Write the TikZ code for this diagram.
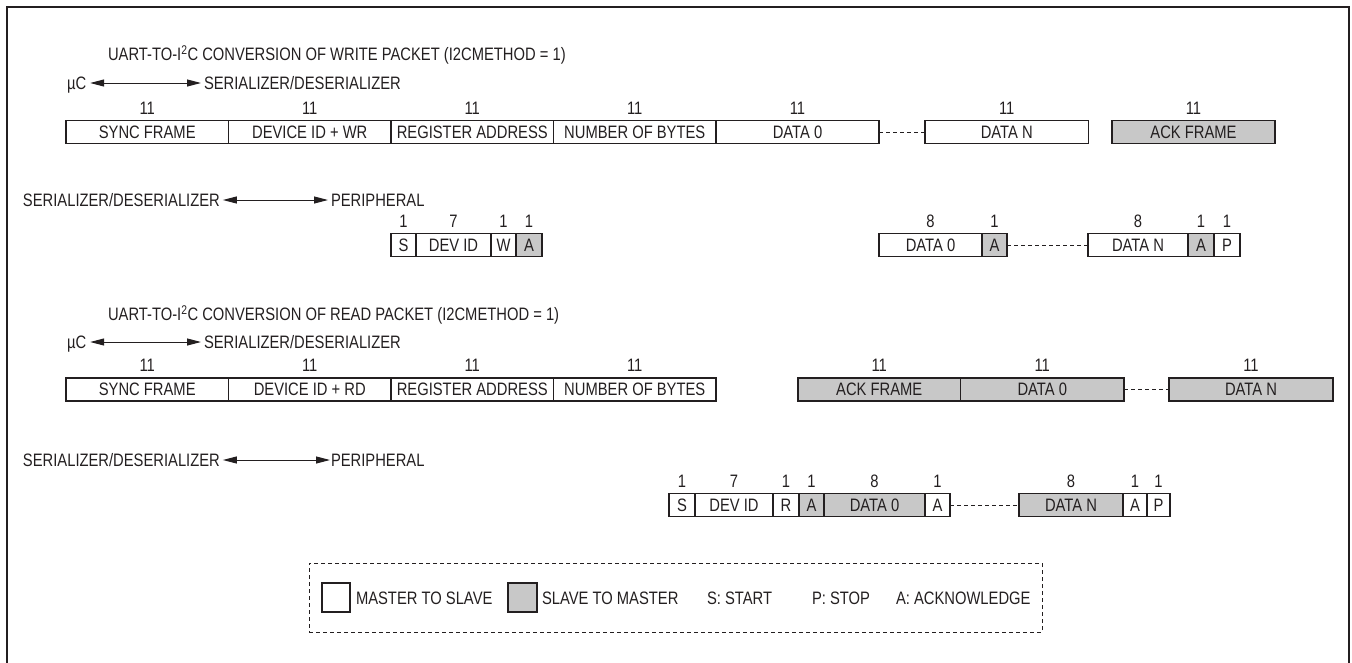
\documentclass[tikz,border=0pt]{standalone}
\usepackage{fontspec}
\setmainfont[FakeStretch=0.82]{Liberation Sans}
\usetikzlibrary{arrows.meta}
\definecolor{ink}{HTML}{231F20}
\definecolor{shade}{HTML}{C8C8C8}
\newcommand\fld[7]{%
  \node[cell, fill=#5, minimum width=#3-#2, anchor=west] (#1) at (#2,#4) {#6};
  \node[lbl] (#1n) at ([yshift=12.5pt]#1.north) {#7};}
\begin{document}
\begin{tikzpicture}[x=1pt,y=-1pt,
  font=\fontsize{18}{20}\selectfont, text=ink,
  cell/.style={draw=ink, line width=1.1pt, minimum height=23pt, inner sep=0pt, outer sep=0pt, text height=12.9pt, text depth=0pt},
  lbl/.style={inner sep=0pt, outer sep=0pt, text height=12.9pt, text depth=0pt},
  dual/.style={{Triangle[length=14pt,width=7pt]}-{Triangle[length=14pt,width=7pt]}, line width=1pt, draw=ink},
  dots/.style={draw=ink, line width=0.8pt, dash pattern=on 4pt off 3pt}]
\useasboundingbox (0,0) rectangle (1352,662);
\clip (0,0) rectangle (1352,662);
\draw[draw=ink, line width=2.6pt] (7,700) -- (7,7) -- (1349,7) -- (1349,700);

% ---- write packet
\node[lbl, anchor=west] (t1) at (108,54) {UART-TO-I\textsuperscript{2}C CONVERSION OF WRITE PACKET (I2CMETHOD = 1)};
\node[lbl, anchor=west] (uc1) at (67,83) {µC};
\node[lbl, anchor=west] (sd1) at (204,83) {SERIALIZER/DESERIALIZER};
\draw[dual, shorten <=4pt, shorten >=3pt] (uc1) -- (sd1);

\fld{a1}{66}{228.5}{132}{white}{SYNC FRAME}{11}
\fld{a2}{228.5}{391}{132}{white}{DEVICE ID + WR}{11}
\fld{a3}{391}{553.5}{132}{white}{REGISTER ADDRESS}{11}
\fld{a4}{553.5}{716}{132}{white}{NUMBER OF BYTES}{11}
\fld{a5}{716}{879}{132}{white}{DATA 0}{11}
\fld{a6}{925}{1088.5}{132}{white}{DATA N}{11}
\fld{a7}{1112}{1275}{132}{shade}{ACK FRAME}{11}
\draw[dots] (a5) -- (a6);

\node[lbl, anchor=west] (sd2) at (23,200) {SERIALIZER/DESERIALIZER};
\node[lbl, anchor=west] (pe2) at (331,200) {PERIPHERAL};
\draw[dual, shorten <=3pt, shorten >=3pt] (sd2) -- (pe2);

\fld{b1}{391}{416}{245}{white}{S}{1}
\fld{b2}{416}{491}{245}{white}{DEV ID}{7}
\fld{b3}{491}{516}{245}{white}{W}{1}
\fld{b4}{516}{542}{245}{shade}{A}{1}
\fld{b5}{879}{982}{245}{white}{DATA 0}{8}
\fld{b6}{982}{1007}{245}{shade}{A}{1}
\fld{b7}{1088}{1188}{245}{white}{DATA N}{8}
\fld{b8}{1188}{1214}{245}{shade}{A}{1}
\fld{b9}{1214}{1240}{245}{white}{P}{1}
\draw[dots] (b6) -- (b7);

% ---- read packet
\node[lbl, anchor=west] (t2) at (108,314) {UART-TO-I\textsuperscript{2}C CONVERSION OF READ PACKET (I2CMETHOD = 1)};
\node[lbl, anchor=west] (uc3) at (67,342) {µC};
\node[lbl, anchor=west] (sd3) at (204,342) {SERIALIZER/DESERIALIZER};
\draw[dual, shorten <=4pt, shorten >=3pt] (uc3) -- (sd3);

\fld{c1}{66}{228.5}{389.5}{white}{SYNC FRAME}{11}
\fld{c2}{228.5}{391}{389.5}{white}{DEVICE ID + RD}{11}
\fld{c3}{391}{553.5}{389.5}{white}{REGISTER ADDRESS}{11}
\fld{c4}{553.5}{716}{389.5}{white}{NUMBER OF BYTES}{11}
\fld{c5}{798}{960.5}{389.5}{shade}{ACK FRAME}{11}
\fld{c6}{960.5}{1124}{389.5}{shade}{DATA 0}{11}
\fld{c7}{1169}{1333}{389.5}{shade}{DATA N}{11}
\draw[dots] (c6) -- (c7);

\node[lbl, anchor=west] (sd4) at (23,460) {SERIALIZER/DESERIALIZER};
\node[lbl, anchor=west] (pe4) at (331,460) {PERIPHERAL};
\draw[dual, shorten <=3pt, shorten >=1pt] (sd4) -- (pe4);

\fld{d1}{669}{695}{505}{white}{S}{1}
\fld{d2}{695}{773}{505}{white}{DEV ID}{7}
\fld{d3}{773}{799}{505}{white}{R}{1}
\fld{d4}{799}{824}{505}{shade}{A}{1}
\fld{d5}{824}{925}{505}{shade}{DATA 0}{8}
\fld{d6}{925}{950}{505}{white}{A}{1}
\fld{d7}{1019}{1123}{505}{shade}{DATA N}{8}
\fld{d8}{1123}{1147}{505}{white}{A}{1}
\fld{d9}{1147}{1170}{505}{white}{P}{1}
\draw[dots] (d6) -- (d7);

% ---- legend
\node[draw=ink, line width=0.8pt, dash pattern=on 4pt off 3pt, minimum width=733pt, minimum height=69pt, inner sep=0pt, outer sep=0pt] (leg) at (675.5,597.5) {};
\node[cell, fill=white, minimum width=28pt, minimum height=29pt] (k1) at (336,597.5) {};
\node[lbl, anchor=west] (k1t) at (356,598) {MASTER TO SLAVE};
\node[cell, fill=shade, minimum width=29pt, minimum height=29pt] (k2) at (522.5,597.5) {};
\node[lbl, anchor=west] (k2t) at (542,598) {SLAVE TO MASTER};
\node[lbl, anchor=west] (k3) at (707,598) {S: START};
\node[lbl, anchor=west] (k4) at (812,598) {P: STOP};
\node[lbl, anchor=west] (k5) at (896,598) {A: ACKNOWLEDGE};
\end{tikzpicture}
\end{document}
